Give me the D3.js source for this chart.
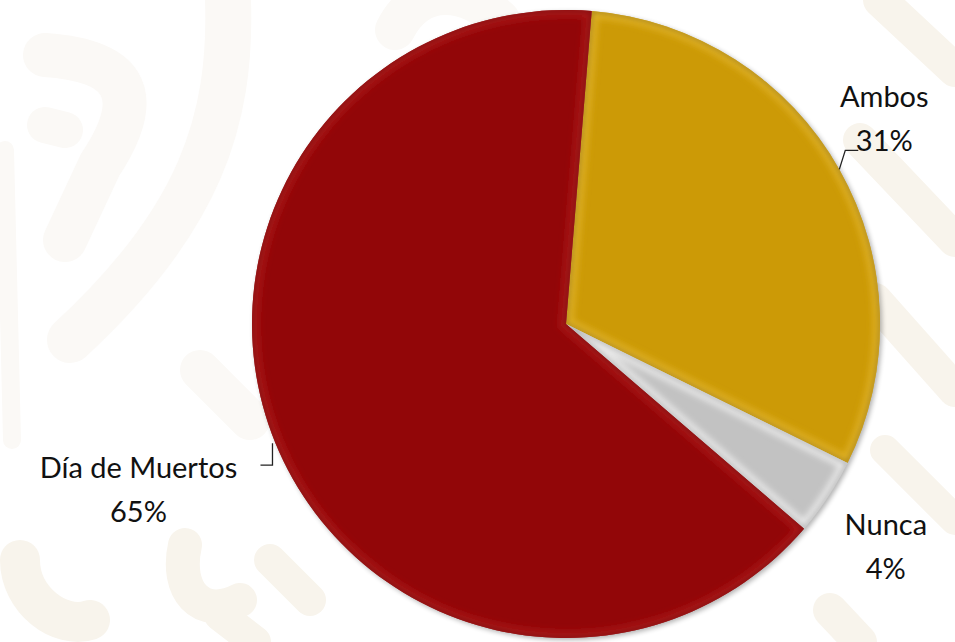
<!DOCTYPE html>
<html>
<head>
<meta charset="utf-8">
<script src="https://cdn.jsdelivr.net/npm/d3@7"></script>
<style>
    html, body { margin: 0; padding: 0; background: #fff; }
    svg { display: block; }
</style>
</head>
<body>
<svg id="chart" width="955" height="642"></svg>
<script>
const categories = ["Ambos", "Nunca", "Día de Muertos"];
const values = [31, 4, 65];
const percentLabels = ["31%", "4%", "65%"];

const colors = ["#CC9A06", "#C2C2C2", "#920608"];
const rimColors = ["#E3B62C", "#F4F4F4", "#B01C1E"];

const width = 955;
const height = 642;
const cx = 566;
const cy = 324;
const radius = 314;
const startAngle = 4.7 * Math.PI / 180;

const svg = d3.select("#chart");
const defs = svg.append("defs");

defs.append("filter").attr("id", "blur").attr("x", "-20%").attr("y", "-20%")
    .attr("width", "140%").attr("height", "140%")
    .append("feGaussianBlur").attr("stdDeviation", 3);

defs.append("filter").attr("id", "shadow").attr("x", "-10%").attr("y", "-10%")
    .attr("width", "120%").attr("height", "120%")
    .append("feGaussianBlur").attr("stdDeviation", 2.5);

// faint decorative background
svg.append("rect").attr("width", width).attr("height", height).attr("fill", "#fff");
const deco = svg.append("g")
    .attr("fill", "none")
    .attr("stroke-linecap", "round")
    .attr("stroke-linejoin", "round");

const decoFaint = "#FBF9F6";
const decoWarm = "#F8F4EC";
[
    { d: "M228,0 C232,120 200,220 70,340", w: 46, c: decoFaint },
    { d: "M45,55 C120,60 150,90 100,165 L65,240", w: 44, c: decoFaint },
    { d: "M45,125 L65,130", w: 36, c: decoFaint },
    { d: "M5,150 L12,440", w: 18, c: decoFaint },
    { d: "M200,370 L250,420", w: 40, c: decoFaint },
    { d: "M395,30 C420,-20 470,-10 500,20", w: 40, c: decoFaint },
    { d: "M880,0 L955,70", w: 34, c: decoWarm },
    { d: "M860,140 L955,240", w: 34, c: decoWarm },
    { d: "M875,300 L955,390", w: 34, c: decoWarm },
    { d: "M885,450 L955,520", w: 30, c: decoWarm },
    { d: "M20,560 C20,600 60,630 90,620", w: 40, c: decoWarm },
    { d: "M185,545 C175,590 200,620 240,600", w: 34, c: decoWarm },
    { d: "M270,560 L310,600", w: 32, c: decoWarm },
    { d: "M220,615 L255,642", w: 32, c: decoWarm },
    { d: "M830,610 L860,642", w: 34, c: decoWarm },
].forEach(s => {
    deco.append("path").attr("d", s.d).attr("stroke", s.c).attr("stroke-width", s.w);
});

const pie = d3.pie()
    .sort(null)
    .value(d => d)
    .startAngle(startAngle)
    .endAngle(startAngle + 2 * Math.PI);

const arcs = pie(values);
const arc = d3.arc().innerRadius(0).outerRadius(radius);

const chart = svg.append("g").attr("transform", `translate(${cx},${cy})`);

// soft shadow behind the pie
chart.append("circle")
    .attr("cx", 2).attr("cy", 2).attr("r", radius)
    .attr("fill", "#000").attr("opacity", 0.3)
    .attr("filter", "url(#shadow)");

const slice = chart.selectAll(".slice")
    .data(arcs)
    .enter()
    .append("g")
    .attr("class", "slice");

slice.append("clipPath")
    .attr("id", (d, i) => `clip${i}`)
    .append("path")
    .attr("d", arc);

slice.append("path")
    .attr("d", arc)
    .attr("fill", (d, i) => colors[i]);

// rounded bevel: light rim blurred inside each slice
slice.append("g")
    .attr("clip-path", (d, i) => `url(#clip${i})`)
    .append("path")
    .attr("d", arc)
    .attr("fill", "none")
    .attr("stroke", (d, i) => rimColors[i])
    .attr("stroke-width", 14)
    .attr("stroke-opacity", 0.75)
    .attr("filter", "url(#blur)");

slice.append("g")
    .attr("clip-path", (d, i) => `url(#clip${i})`)
    .append("path")
    .attr("d", arc)
    .attr("fill", "none")
    .attr("stroke", "#000")
    .attr("stroke-opacity", 0.3)
    .attr("stroke-width", 2.5)
    .attr("filter", "url(#shadow)");

// labels
const labelLayout = [
    { dx: 45, dy: -62 },
    { dx: 58, dy: 38 },
    { dx: -137, dy: 35 },
];

const labels = svg.append("g")
    .attr("font-family", "Lato, 'Open Sans', sans-serif")
    .attr("font-size", 29)
    .attr("fill", "#111");

arcs.forEach((d, i) => {
    const mid = (d.startAngle + d.endAngle) / 2;
    const ex = cx + radius * Math.sin(mid);
    const ey = cy - radius * Math.cos(mid);
    const L = labelLayout[i];
    const lx = ex + L.dx;
    const ly = ey + L.dy;
    const t = labels.append("text")
        .attr("x", lx).attr("y", ly)
        .attr("text-anchor", "middle");
    t.append("tspan").attr("x", lx).attr("dy", 0).text(categories[i]);
    t.append("tspan").attr("x", lx).attr("dy", 44).text(percentLabels[i]);

    // leader lines
    if (i === 0) {
        labels.append("path")
            .attr("d", `M${ex},${ey} L${ex + 6},${ey - 19} L${ex + 19},${ey - 19}`)
            .attr("fill", "none").attr("stroke", "#222").attr("stroke-width", 1.3);
    } else if (i === 2) {
        labels.append("path")
            .attr("d", `M${ex - 3},${ey} L${ex - 3},${ey + 22} L${ex - 15},${ey + 22}`)
            .attr("fill", "none").attr("stroke", "#222").attr("stroke-width", 1.3);
    }
});
</script>
</body>
</html>
